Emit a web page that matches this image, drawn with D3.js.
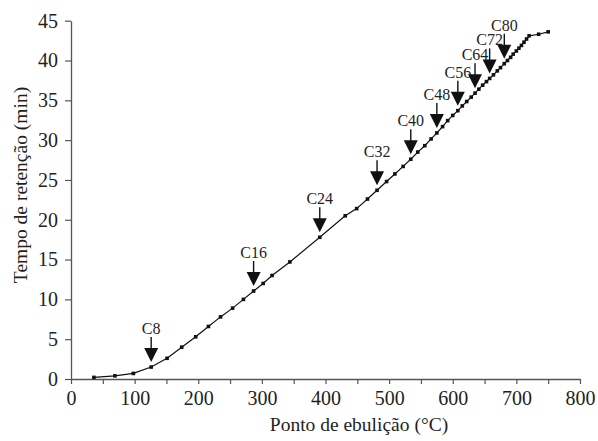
<!DOCTYPE html>
<html>
<head>
<meta charset="utf-8">
<script src="https://cdn.jsdelivr.net/npm/d3@7"></script>
<style>
  html, body { margin: 0; padding: 0; background: #fff; }
  text { font-family: "Liberation Serif", "Times New Roman", serif; fill: #231f20; }
</style>
</head>
<body>
<script>
// boiling point (°C) and retention time (min) of the calibration points
const boilingPoints = [36, 69, 98, 126, 151, 174, 196, 216, 235, 254, 271, 287, 302, 316, 344, 391,
    431, 449, 466, 481, 496, 509, 522, 534, 545, 556, 566, 575, 584, 592, 600, 608, 615, 622,
    629, 635, 641, 647, 653, 658, 664, 670, 675, 681, 686, 691, 695, 700, 704, 708, 712, 716,
    720, 735, 750];
const retentionTimes = [0.2, 0.4, 0.7, 1.5, 2.6, 4.0, 5.3, 6.6, 7.8, 8.9, 10.0, 11.05, 12.0, 13.0,
    14.7, 17.8, 20.5, 21.4, 22.6, 23.7, 24.8, 25.75, 26.7, 27.6, 28.5, 29.3, 30.15, 30.9, 31.7,
    32.45, 33.1, 33.7, 34.3, 34.85, 35.4, 35.9, 36.4, 36.9, 37.35, 37.75, 38.2, 38.7, 39.1, 39.6,
    40.0, 40.4, 40.8, 41.2, 41.55, 41.9, 42.3, 42.7, 43.1, 43.3, 43.6];

// arrow annotations: label and boiling point of the marked point
const arrowLabels = ['C8', 'C16', 'C24', 'C32', 'C40', 'C48', 'C56', 'C64', 'C72', 'C80'];
const arrowBoilingPoints = [126, 287, 391, 481, 534, 575, 608, 635, 658, 681];

const xTicks = [0, 100, 200, 300, 400, 500, 600, 700, 800];
const xMinorTicks = d3.range(0, 801, 50);
const yTicks = [0, 5, 10, 15, 20, 25, 30, 35, 40, 45];

const data = boilingPoints.map((bp, i) => ({ bp, rt: retentionTimes[i] }));
const arrows = arrowLabels.map((label, i) => {
    const bp = arrowBoilingPoints[i];
    const p = data.reduce((a, b) => Math.abs(b.bp - bp) < Math.abs(a.bp - bp) ? b : a);
    return { label, bp: p.bp, rt: p.rt };
});

const W = 598, H = 441;
const margin = { top: 20.7, right: 18, bottom: 62, left: 71 };

const svg = d3.select('body').append('svg')
    .attr('width', W)
    .attr('height', H);

const x = d3.scaleLinear().domain([0, 800]).range([margin.left, W - margin.right]);
const y = d3.scaleLinear().domain([0, 45]).range([H - margin.bottom, margin.top]);

const axisColor = '#555';

// X axis (minor ticks every 50, labels every 100)
const xAxis = svg.append('g')
    .attr('transform', `translate(0,${y(0)})`)
    .call(d3.axisBottom(x).tickValues(xMinorTicks).tickSize(5).tickSizeOuter(0)
        .tickFormat(d => xTicks.includes(d) ? d : ''));
xAxis.select('.domain').attr('stroke', axisColor).attr('stroke-width', 1.3);
xAxis.selectAll('.tick line').attr('stroke', axisColor).attr('stroke-width', 1.2);
xAxis.selectAll('.tick text')
    .attr('y', 12)
    .attr('font-size', 20)
    .attr('fill', '#231f20');

// Y axis
const yAxis = svg.append('g')
    .attr('transform', `translate(${x(0)},0)`)
    .call(d3.axisLeft(y).tickValues(yTicks).tickSize(6).tickSizeOuter(0));
yAxis.select('.domain').attr('stroke', axisColor).attr('stroke-width', 1.3);
yAxis.selectAll('.tick line').attr('stroke', axisColor).attr('stroke-width', 1.2);
yAxis.selectAll('.tick text')
    .attr('x', -13)
    .attr('font-size', 20)
    .attr('fill', '#231f20');

// Axis titles
svg.append('text')
    .attr('x', 359)
    .attr('y', 431)
    .attr('text-anchor', 'middle')
    .attr('font-size', 19.5)
    .text('Ponto de ebulição (°C)');

svg.append('text')
    .attr('transform', `translate(27,${185}) rotate(-90)`)
    .attr('text-anchor', 'middle')
    .attr('font-size', 19.5)
    .text('Tempo de retenção (min)');

// Line + markers
const line = d3.line().x(d => x(d.bp)).y(d => y(d.rt));
svg.append('path')
    .datum(data)
    .attr('d', line)
    .attr('fill', 'none')
    .attr('stroke', '#111')
    .attr('stroke-width', 1.2);

svg.selectAll('.marker')
    .data(data)
    .enter()
    .append('rect')
    .attr('class', 'marker')
    .attr('x', d => x(d.bp) - 1.8)
    .attr('y', d => y(d.rt) - 1.8)
    .attr('width', 3.6)
    .attr('height', 3.6)
    .attr('fill', '#111');

// Arrows with carbon number labels
const ann = svg.selectAll('.arrow')
    .data(arrows)
    .enter()
    .append('g')
    .attr('class', 'arrow')
    .attr('transform', d => `translate(${x(d.bp)},${y(d.rt)})`);

ann.append('line')
    .attr('x1', 0).attr('x2', 0)
    .attr('y1', -30).attr('y2', -18)
    .attr('stroke', '#111')
    .attr('stroke-width', 1.4);

ann.append('path')
    .attr('d', 'M-7,-19 L7,-19 L0,-5 Z')
    .attr('fill', '#111');

ann.append('text')
    .attr('y', -33)
    .attr('text-anchor', 'middle')
    .attr('font-size', 16)
    .text(d => d.label);
</script>
</body>
</html>
